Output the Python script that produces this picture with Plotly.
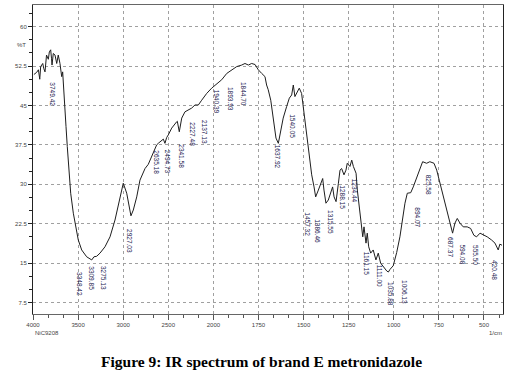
import numpy as np
import plotly.graph_objects as go

# ---- data ----
wavenumber = [3990, 3960, 3940, 3925, 3915, 3892, 3880, 3867, 3850, 3830, 3819, 3804, 3795, 3789,
              3775, 3756, 3737, 3728, 3720, 3701, 3682, 3671, 3664, 3653, 3645, 3634, 3620, 3601,
              3582, 3553, 3523, 3498, 3460, 3405, 3349, 3324, 3294, 3257, 3202, 3146, 3091, 3043,
              2999, 2961, 2940, 2914, 2888, 2850, 2814, 2777, 2758, 2722, 2684, 2629, 2611, 2573,
              2555, 2537, 2518, 2500, 2462, 2407, 2400, 2378, 2351, 2315, 2278, 2241, 2204, 2167,
              2130, 2074, 2019, 1981, 1954, 1926, 1898, 1871, 1843, 1825, 1806, 1788, 1769, 1751,
              1732, 1714, 1705, 1696, 1682, 1673, 1664, 1653, 1640, 1627, 1613, 1594, 1579, 1566,
              1557, 1548, 1535, 1524, 1511, 1502, 1492, 1479, 1468, 1455, 1442, 1433, 1418, 1405,
              1394, 1387, 1376, 1363, 1350, 1339, 1331, 1320, 1307, 1298, 1289, 1276, 1265, 1258,
              1243, 1233, 1224, 1209, 1202, 1191, 1182, 1172, 1165, 1154, 1147, 1139, 1128, 1114,
              1099, 1086, 1073, 1058, 1039, 1030, 1021, 1003, 984, 966, 951, 938, 925, 906, 892,
              873, 855, 840, 818, 800, 777, 762, 748, 729, 711, 689, 674, 661, 648, 633, 615, 593,
              574, 556, 541, 522, 500, 482, 458, 439, 421, 412, 400]
transmittance = [50.9, 51.3, 51.8, 50.0, 52.4, 53.0, 52.0, 51.4, 54.6, 53.8, 55.2, 55.6, 54.0, 52.7,
                 54.9, 54.6, 53.0, 54.2, 54.6, 53.0, 50.5, 51.4, 48.9, 46.0, 44.1, 41.0, 37.2, 32.1,
                 28.3, 24.5, 21.9, 19.4, 17.5, 16.2, 15.6, 16.2, 16.3, 16.9, 18.1, 20.0, 23.2, 27.0,
                 30.2, 28.3, 26.5, 24.0, 25.1, 27.6, 30.8, 32.1, 33.0, 33.8, 35.3, 37.5, 37.8, 38.4,
                 38.6, 37.8, 38.9, 39.4, 40.7, 41.9, 42.0, 40.0, 42.6, 43.8, 44.1, 44.5, 45.1, 45.1,
                 46.0, 47.3, 48.3, 49.2, 49.9, 51.1, 51.8, 52.4, 52.7, 53.0, 52.7, 53.0, 52.8, 51.8,
                 51.1, 50.5, 48.9, 48.0, 46.0, 43.5, 41.0, 38.8, 37.8, 40.3, 42.6, 44.8, 46.4, 47.0,
                 48.9, 46.7, 47.6, 48.3, 47.3, 44.8, 41.6, 37.8, 34.6, 31.8, 29.5, 27.6, 28.9, 30.2,
                 31.1, 28.9, 26.4, 27.0, 28.3, 29.5, 27.6, 26.7, 30.2, 32.7, 33.0, 31.8, 32.7, 34.0,
                 33.4, 34.6, 33.4, 32.1, 28.9, 25.7, 22.6, 20.0, 21.9, 18.8, 20.7, 18.1, 16.9, 17.5,
                 15.6, 16.9, 15.0, 14.3, 13.5, 13.3, 13.8, 14.5, 17.0, 20.0, 23.8, 26.4, 28.3, 28.4, 29.5,
                 31.4, 33.0, 34.3, 34.0, 34.3, 34.0, 32.7, 30.8, 28.3, 25.7, 23.2, 20.7, 22.6, 23.5, 22.6, 21.9, 21.9,
                 21.6, 20.3, 20.0, 20.7, 20.3, 20.0, 19.4, 18.8, 17.5, 18.6, 18.4]

peak_labels = ["3749.42", "3348.42", "3309.85", "3275.13", "2927.03", "2635.18", "2494.73", "2341.58",
               "2227.48", "2137.13", "1940.39", "1893.93", "1844.70", "1637.92", "1540.05", "1457.32",
               "1386.46", "1315.55", "1288.15", "1234.44", "1161.15", "1111.00", "1035.88", "1006.13",
               "894.07", "825.58", "687.37", "594.08", "555.50", "420.48"]
label_wn = [3782, 3479, 3360, 3224, 2925, 2629, 2500, 2351, 2229, 2093, 1978, 1902, 1830, 1640, 1560,
            1483, 1427, 1354, 1289, 1219, 1150, 1080, 1015, 938, 873, 803, 689, 624, 550, 439]
label_top = [49.85, 13.68, 14.83, 14.83, 21.87, 36.91, 36.91, 38.05, 42.24, 42.62, 48.33, 48.90, 49.85,
             37.86, 43.76, 25.11, 23.78, 25.49, 30.25, 31.39, 17.49, 15.02, 11.78, 12.16, 26.06, 32.15,
             20.35, 19.02, 18.83, 15.97]

x_ticks = [4000, 3500, 3000, 2500, 2000, 1750, 1500, 1250, 1000, 750, 500]
y_ticks = [7.5, 15, 22.5, 30, 37.5, 45, 52.5, 60]


def scale_x(wn):
    """IR chart x-scale: 4000-2000 compressed by 2 relative to 2000-400."""
    wn = np.asarray(wn, dtype=float)
    return np.where(wn >= 2000, 4000 - wn, 2000 + (2000 - wn) * 2)


fig = go.Figure()
fig.add_trace(go.Scatter(x=scale_x(wavenumber), y=transmittance, mode="lines",
                         line=dict(color="#1e1e1e", width=1), hoverinfo="skip"))

for txt, w, t in zip(peak_labels, label_wn, label_top):
    fig.add_annotation(x=float(scale_x([w])[0]), y=t, text=txt, showarrow=False, textangle=90,
                       xanchor="center", yanchor="top",
                       font=dict(family="Arial, Liberation Sans", size=6.5, color="#202050"))

tickfont = dict(family="Arial, Liberation Sans", size=6, color="#444")
fig.update_xaxes(range=[0, 5211], tickmode="array", tickvals=list(scale_x(x_ticks)),
                 ticktext=[str(v) for v in x_ticks], ticks="outside", ticklen=5, tickcolor="#555",
                 tickfont=tickfont, showgrid=True, gridcolor="#a0a0a0", griddash="dot", gridwidth=1,
                 showline=True, linecolor="#666", linewidth=1, mirror=True, zeroline=False,
                 automargin=False,
                 minor=dict(tickmode="linear", tick0=0, dtick=500 / 3, ticks="outside",
                            ticklen=3, tickcolor="#555", showgrid=False))
fig.update_yaxes(range=[5.31, 64.13], tickmode="array", tickvals=y_ticks,
                 ticktext=[("%g" % v) for v in y_ticks], ticks="outside", ticklen=4, tickcolor="#222",
                 tickfont=tickfont, showgrid=True, gridcolor="#a0a0a0", griddash="dot", gridwidth=1,
                 showline=True, linecolor="#222", linewidth=1, mirror=True, zeroline=False,
                 automargin=False,
                 minor=dict(tickmode="linear", tick0=0, dtick=2.5, ticks="outside",
                            ticklen=3, tickcolor="#222", showgrid=False))

fig.add_annotation(xref="paper", yref="y", x=0, y=56.5, xanchor="right", xshift=-5, text="%T",
                   showarrow=False, font=tickfont)
fig.add_annotation(xref="paper", yref="paper", x=0.985, y=-0.045, xanchor="center", yanchor="top",
                   text="1/cm", showarrow=False, font=tickfont)
fig.add_annotation(xref="paper", yref="paper", x=0.03, y=-0.045, xanchor="center", yanchor="top",
                   text="NiC9208", showarrow=False, font=tickfont)
fig.add_annotation(xref="paper", yref="paper", x=0.487, y=-0.155, xanchor="center", yanchor="middle",
                   text="<b>Figure 9: IR spectrum of brand E metronidazole</b>", showarrow=False,
                   font=dict(family="Liberation Serif, Times New Roman", size=15.5, color="black"))

fig.update_layout(width=529, height=384, margin=dict(l=33, r=26, t=5, b=70),
                  paper_bgcolor="white", plot_bgcolor="white", showlegend=False)
fig.write_html("out.html", config={"displayModeBar": False},
               post_script="document.body.style.margin='0';")
